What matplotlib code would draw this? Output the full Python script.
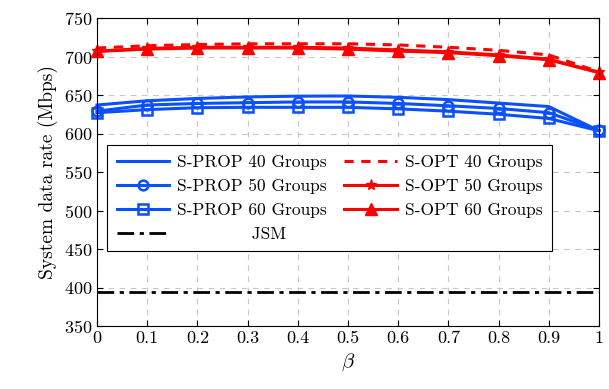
import matplotlib
matplotlib.use("Agg")
from matplotlib import pyplot as plt

beta = [0, 0.1, 0.2, 0.3, 0.4, 0.5, 0.6, 0.7, 0.8, 0.9, 1.0]

prop_40 = [637, 642.5, 645.5, 647.5, 648.5, 648.7, 647, 644, 639.5, 635, 603.5]
prop_50 = [629, 637, 639, 640, 641, 641, 639, 636, 632.5, 627, 604]
prop_60 = [627, 631, 633.5, 634, 634, 634, 632, 629, 625, 619.5, 603.5]

opt_40 = [711, 714, 715.5, 716.5, 716.5, 716.5, 715, 712, 708, 702, 680]
opt_50 = [707, 710.5, 712, 712, 712, 711, 708.5, 706, 702, 696.5, 679.5]
opt_60 = [706.5, 709.6, 711, 711, 711, 709.6, 707, 705, 701, 695.7, 679]

jsm = [394] * len(beta)

plt.rcParams["font.family"] = "serif"
plt.rcParams["font.serif"] = ["cmr10", "DejaVu Serif"]
plt.rcParams["mathtext.fontset"] = "cm"
plt.rcParams["axes.formatter.use_mathtext"] = True

blue = "#0a50ff"
red = "#ff0000"

fig = plt.figure(figsize=(6.09, 3.89), dpi=100)
ax = fig.add_axes([97 / 609, 63 / 389, 502 / 609, 308 / 389])

lw = 2.2
ax.plot(beta, prop_40, color=blue, lw=lw, label="S-PROP 40 Groups", clip_on=False)
ax.plot(beta, prop_50, color=blue, lw=lw, marker="o", ms=7, mfc="none", mew=1.8,
        label="S-PROP 50 Groups", clip_on=False)
ax.plot(beta, prop_60, color=blue, lw=lw, marker="s", ms=7, mfc="none", mew=1.8,
        label="S-PROP 60 Groups", clip_on=False)
ax.plot(beta, jsm, color="black", lw=2, ls=(0, (6, 2, 1.5, 2)),
        label="             JSM")
ax.plot(beta, opt_40, color=red, lw=lw, ls=(0, (3, 2.5)), label="S-OPT 40 Groups",
        clip_on=False)
ax.plot(beta, opt_50, color=red, lw=lw, marker="*", ms=8,
        label="S-OPT 50 Groups", clip_on=False)
ax.plot(beta, opt_60, color=red, lw=lw, marker="^", ms=8,
        label="S-OPT 60 Groups", clip_on=False)

ax.set_xlim(0, 1)
ax.set_ylim(350, 750)
ax.set_xticks(beta)
ax.set_xticklabels(["0", "0.1", "0.2", "0.3", "0.4", "0.5", "0.6", "0.7", "0.8", "0.9", "1"])
ax.set_yticks(range(350, 751, 50))
ax.tick_params(direction="in", top=True, right=True, labelsize=13, length=4)
ax.grid(True, ls=(0, (5, 5)), color="#c8c8c8", lw=0.8)
ax.set_axisbelow(True)
for s in ax.spines.values():
    s.set_linewidth(0.8)

ax.set_xlabel(r"$\beta$", fontsize=15, labelpad=4)
ax.set_ylabel("System data rate (Mbps)", fontsize=14)

leg = ax.legend(ncol=2, loc="upper left", bbox_to_anchor=(0.02, 0.588),
                fontsize=12.5, frameon=True, fancybox=False, edgecolor="black",
                framealpha=1, handlelength=3.0, columnspacing=1.0,
                borderaxespad=0, labelspacing=0.5, handletextpad=0.5,
                borderpad=0.55)
leg.get_frame().set_linewidth(0.8)

plt.savefig("out.png", dpi=100)
plt.close()
